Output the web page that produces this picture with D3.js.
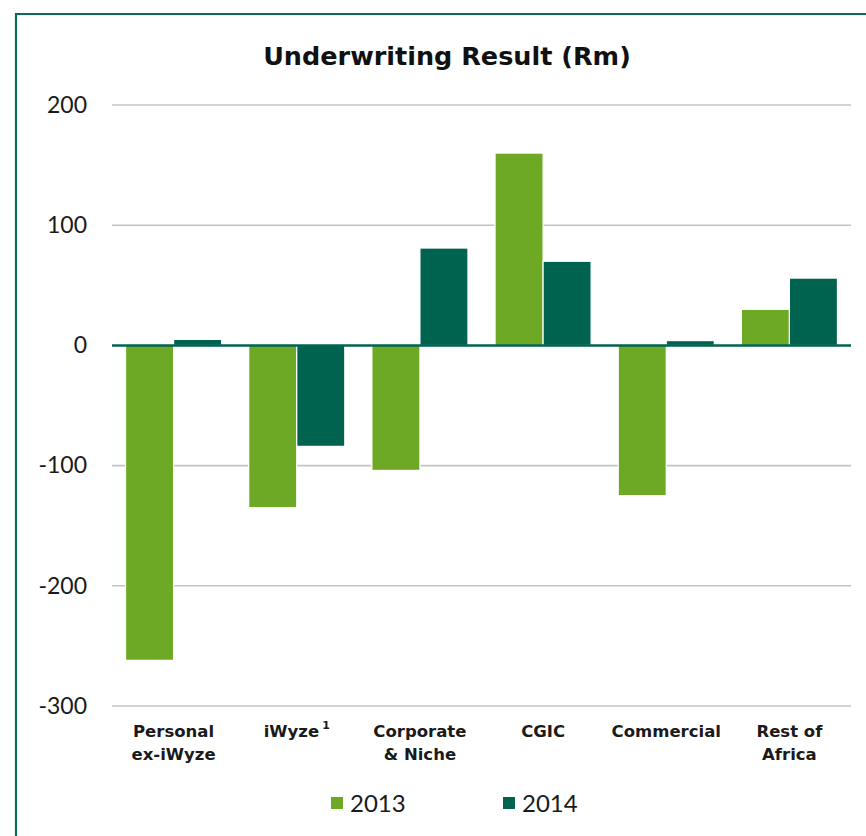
<!DOCTYPE html>
<html><head><meta charset="utf-8">
<script src="https://cdn.jsdelivr.net/npm/d3@7"></script>
<style>body{margin:0;background:#fff;}svg{display:block;}</style>
</head><body>
<svg id="c" width="866" height="836"></svg>
<script>
const categories = ["Personal|ex-iWyze", "iWyze", "Corporate|& Niche", "CGIC", "Commercial", "Rest of|Africa"];
const series = ["2013", "2014"];
const values2013 = [-262, -135, -104, 160, -125, 30];
const values2014 = [5, -84, 81, 70, 4, 56];
const yTicks = [200, 100, 0, -100, -200, -300];
const colors = ["#6DA925", "#00634F"];
const title = "Underwriting Result (Rm)";

const svg = d3.select("#c");
const plotL = 112, plotR = 851, plotT = 105, plotB = 706;

// frame
svg.append("path").attr("d", "M16,840 L16,14 L870,14")
  .attr("fill", "none").attr("stroke", "#0B6B57").attr("stroke-width", 2.2);

const y = d3.scaleLinear().domain([-300, 200]).range([plotB, plotT]);
const x0 = d3.scaleBand().domain(categories).range([plotL, plotR]).paddingInner(0.22).paddingOuter(0.11);
const x1 = d3.scaleBand().domain(series).range([0, x0.bandwidth()]);

// gridlines
svg.append("g").selectAll("line").data(yTicks.filter(d => d !== 0)).join("line")
  .attr("x1", plotL).attr("x2", plotR).attr("y1", d => y(d)).attr("y2", d => y(d))
  .attr("stroke", "#C3C3C3").attr("stroke-width", 1.6);

// y axis labels
const yAxis = d3.axisLeft(y).tickValues(yTicks).tickSize(0).tickPadding(0).tickFormat(d => String(d));
const ya = svg.append("g").attr("transform", "translate(87,0)").call(yAxis);
ya.attr("font-family", null).attr("font-size", null);
ya.select(".domain").remove();
ya.selectAll("text").attr("font-family", "Lato, 'Open Sans', sans-serif").attr("font-size", 23).attr("fill", "#1a1a1a");

// bars
const data = categories.map((c, i) => ({cat: c, vals: [values2013[i], values2014[i]]}));
const g = svg.append("g").selectAll("g").data(data).join("g")
  .attr("transform", d => `translate(${x0(d.cat)},0)`);
g.selectAll("rect").data(d => d.vals.map((v, j) => ({s: series[j], v, j}))).join("rect")
  .attr("x", d => x1(d.s))
  .attr("width", x1.bandwidth())
  .attr("y", d => Math.min(y(d.v), y(0)))
  .attr("height", d => Math.abs(y(d.v) - y(0)))
  .attr("fill", d => colors[d.j])
  .attr("stroke", "#fff").attr("stroke-width", 1.2);

// zero line
svg.append("line").attr("x1", plotL).attr("x2", plotR).attr("y1", y(0)).attr("y2", y(0))
  .attr("stroke", "#00634F").attr("stroke-width", 2.5);

// title
svg.append("text").attr("x", 447).attr("y", 65).attr("text-anchor", "middle")
  .attr("font-family", "'DejaVu Sans', sans-serif").attr("font-weight", "bold")
  .attr("font-size", 25.5).attr("fill", "#111").text(title);

// x labels
const xl = svg.append("g").selectAll("text").data(categories).join("text")
  .attr("x", d => x0(d) + x0.bandwidth() / 2).attr("y", 737)
  .attr("text-anchor", "middle")
  .attr("font-family", "'DejaVu Sans', sans-serif").attr("font-weight", "bold")
  .attr("font-size", 16.5).attr("fill", "#1a1a1a");
xl.each(function(d) {
  const t = d3.select(this);
  const parts = d.split("|");
  parts.forEach((p, i) => {
    t.append("tspan").attr("x", x0(d) + x0.bandwidth() / 2).attr("dy", i === 0 ? 0 : 23).text(p);
  });
  if (d === "iWyze") {
    t.append("tspan").attr("dy", -8).attr("dx", 3).attr("font-size", 11).text("1");
  }
});

// legend
const legendX = [331, 503];
const lg = svg.append("g").selectAll("g").data(series).join("g")
  .attr("transform", (d, i) => `translate(${legendX[i]},797)`);
lg.append("rect").attr("width", 12).attr("height", 12).attr("fill", (d, i) => colors[i]);
lg.append("text").attr("x", 19).attr("y", 15).attr("font-family", "Lato, 'Open Sans', sans-serif")
  .attr("font-size", 24).attr("fill", "#1a1a1a").text(d => d);
</script>
</body></html>
